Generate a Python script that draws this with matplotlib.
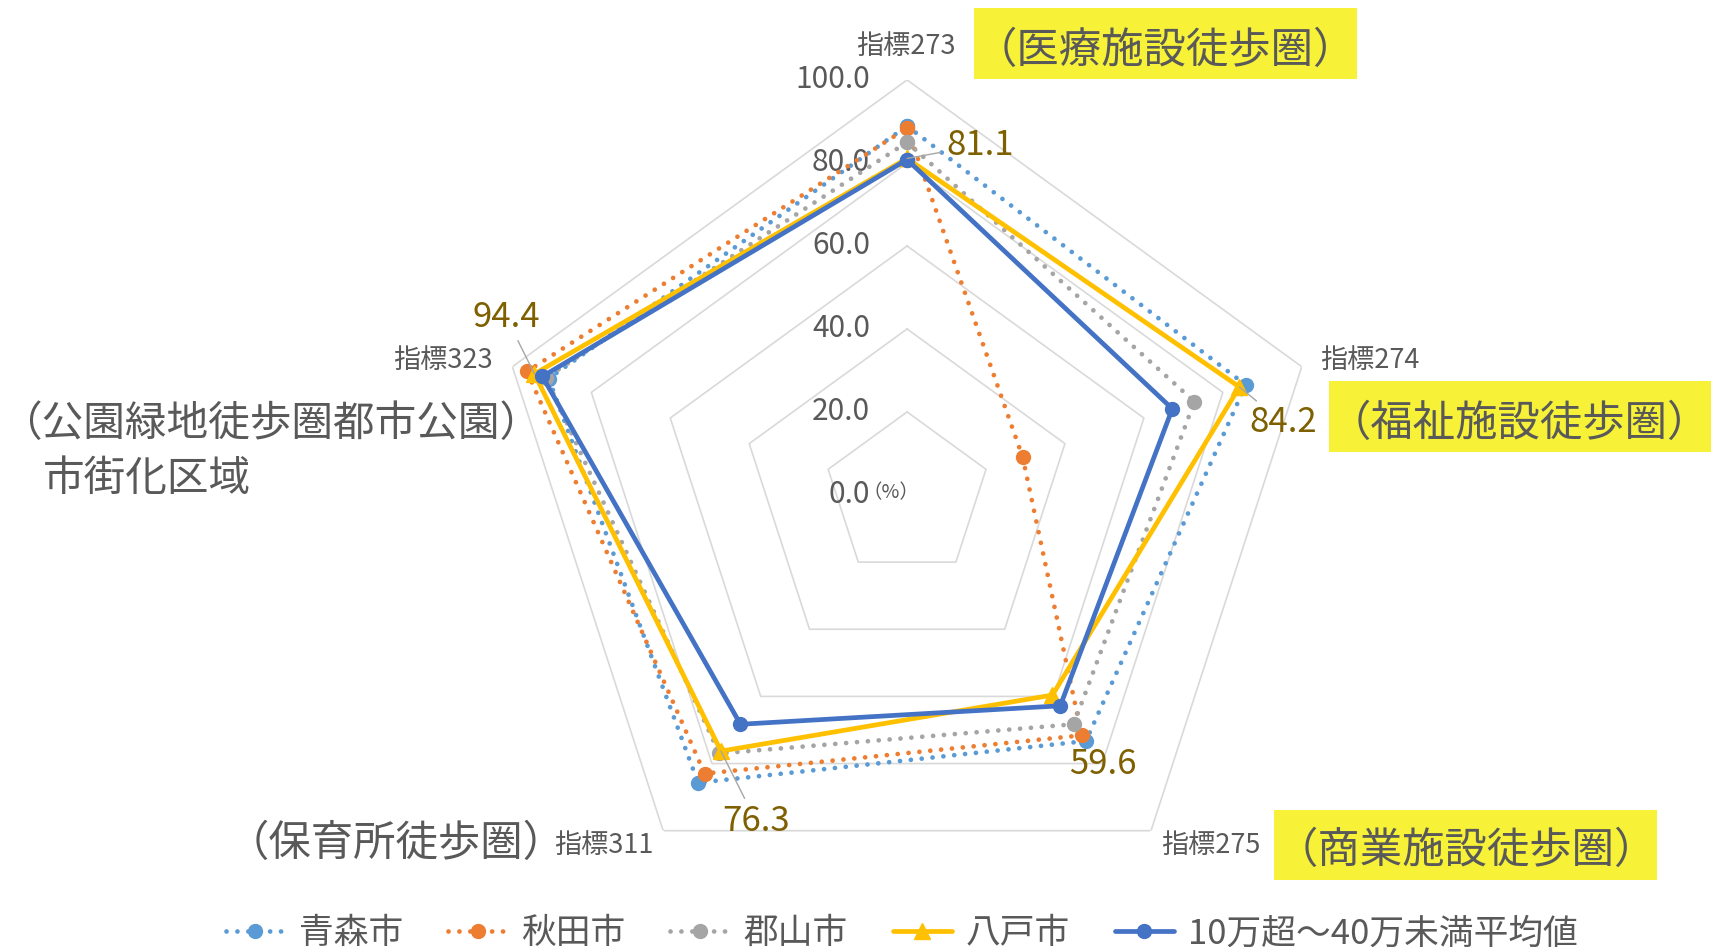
import matplotlib
matplotlib.use("Agg")
import matplotlib.pyplot as plt
from matplotlib.patches import Rectangle
import numpy as np

plt.rcParams['font.family'] = ['Noto Sans CJK JP', 'DejaVu Sans']

# データ
axis_labels = ["指標273", "指標274", "指標275", "指標311", "指標323"]
aomori = [88.9, 85.8, 73.3, 85.7, 90.8]
akita = [88.4, 29.3, 71.6, 83.0, 96.3]
koriyama = [85.0, 72.8, 68.3, 77.0, 91.5]
hachinohe = [81.1, 84.2, 59.6, 76.3, 94.4]
average = [80.8, 67.2, 62.8, 68.3, 92.4]
ring_values = [0, 20, 40, 60, 80, 100]
series_names = ["青森市", "秋田市", "郡山市", "八戸市", "10万超～40万未満平均値"]

GRAY = "#595959"
LABEL = "#7F6000"
HIGHLIGHT = "#F7F137"
W, H = 1711, 947

fig = plt.figure(figsize=(17.11, 9.47), dpi=100)
ax = fig.add_axes([0.2876, 0.0391, 0.4851, 0.8765], projection="polar")
ax.set_theta_offset(np.pi / 2)
ax.set_theta_direction(-1)
ax.set_ylim(0, 100)
ax.set_xticks([])
ax.set_yticks([])
ax.grid(False)
ax.spines["polar"].set_visible(False)
ax.patch.set_visible(False)

n = len(axis_labels)
theta = np.arange(n) * 2 * np.pi / n
theta_c = np.append(theta, theta[0])

# 五角形のグリッド
for r in ring_values[1:]:
    ax.plot(theta_c, [r] * (n + 1), color="#D9D9D9", lw=1.2, zorder=1)

# 目盛ラベル
for r in ring_values:
    ax.annotate(f"{r:.1f}", xy=(0, r), xytext=(-37, 0), textcoords="offset pixels",
                ha="right", va="center", fontsize=21.5, color=GRAY, zorder=2)
fig.text(0.5205, 0.480, "（%）", ha="center", va="center", fontsize=14, color=GRAY)

def close(v):
    return v + v[:1]

dot = (0, (0.01, 2.3))
styles = [
    (aomori, "#5B9BD5", dot, "o", 10),
    (akita, "#ED7D31", dot, "o", 10),
    (koriyama, "#A5A5A5", dot, "o", 10),
    (hachinohe, "#FFC000", "-", "^", 12),
    (average, "#4472C4", "-", "o", 10),
]
for (vals, color, ls, mk, ms), name in zip(styles, series_names):
    ax.plot(theta_c, close(vals), color=color, ls=ls, lw=3.4, marker=mk, ms=ms,
            dash_capstyle="round", solid_capstyle="round", label=name, zorder=3,
            clip_on=False)

# データラベル（八戸市）
offsets = [(73, 13), (44, -36), (50, -69), (35, -70), (-28, 56)]
leaders = [True, True, False, True, True]
for t, v, off, lead in zip(theta, hachinohe, offsets, leaders):
    ax.annotate(f"{v:.1f}", xy=(t, v), xytext=off, textcoords="offset pixels",
                ha="center", va="center", fontsize=25, color=LABEL, zorder=4,
                arrowprops=dict(arrowstyle="-", color="#A6A6A6", lw=1,
                                shrinkA=2, shrinkB=0) if lead else None)

# 軸ラベル
axis_pos = [(0.5295, 0.9514), (0.8003, 0.6198), (0.7079, 0.1067),
            (0.3527, 0.1067), (0.2589, 0.6198)]
for (x, y), lab in zip(axis_pos, axis_labels):
    fig.text(x, y, lab, ha="center", va="center", fontsize=19.5, color=GRAY)

# 黄色の強調枠（ピクセル位置: x0, y0(下から), 幅, 高さ）
for x0, y0, w, h in [(974, 868, 383, 71), (1329, 495, 383, 71), (1274, 67, 383, 70)]:
    fig.add_artist(Rectangle((x0 / W, y0 / H), w / W, h / H, transform=fig.transFigure,
                             fc=HIGHLIGHT, ec="none", zorder=0))

# 項目名
fig.text(0.6812, 0.9458, "（医療施設徒歩圏）", ha="center", va="center",
         fontsize=30.5, color=GRAY)
fig.text(0.8881, 0.5525, "（福祉施設徒歩圏）", ha="center", va="center",
         fontsize=30.5, color=GRAY)
fig.text(0.8572, 0.1016, "（商業施設徒歩圏）", ha="center", va="center",
         fontsize=30.5, color=GRAY)
fig.text(0.2317, 0.109, "（保育所徒歩圏）", ha="center", va="center",
         fontsize=30.5, color=GRAY)
fig.text(0.1584, 0.5514, "（公園緑地徒歩圏都市公園）", ha="center", va="center",
         fontsize=30, color=GRAY)
fig.text(0.0856, 0.4934, "市街化区域", ha="center", va="center",
         fontsize=30, color=GRAY)

fig.legend(loc="center", bbox_to_anchor=(0.527, 0.014), ncol=5, frameon=False,
           fontsize=25, handlelength=1.7, handletextpad=0.4, columnspacing=1.3,
           labelcolor=GRAY)

fig.savefig("out.png", dpi=100)
